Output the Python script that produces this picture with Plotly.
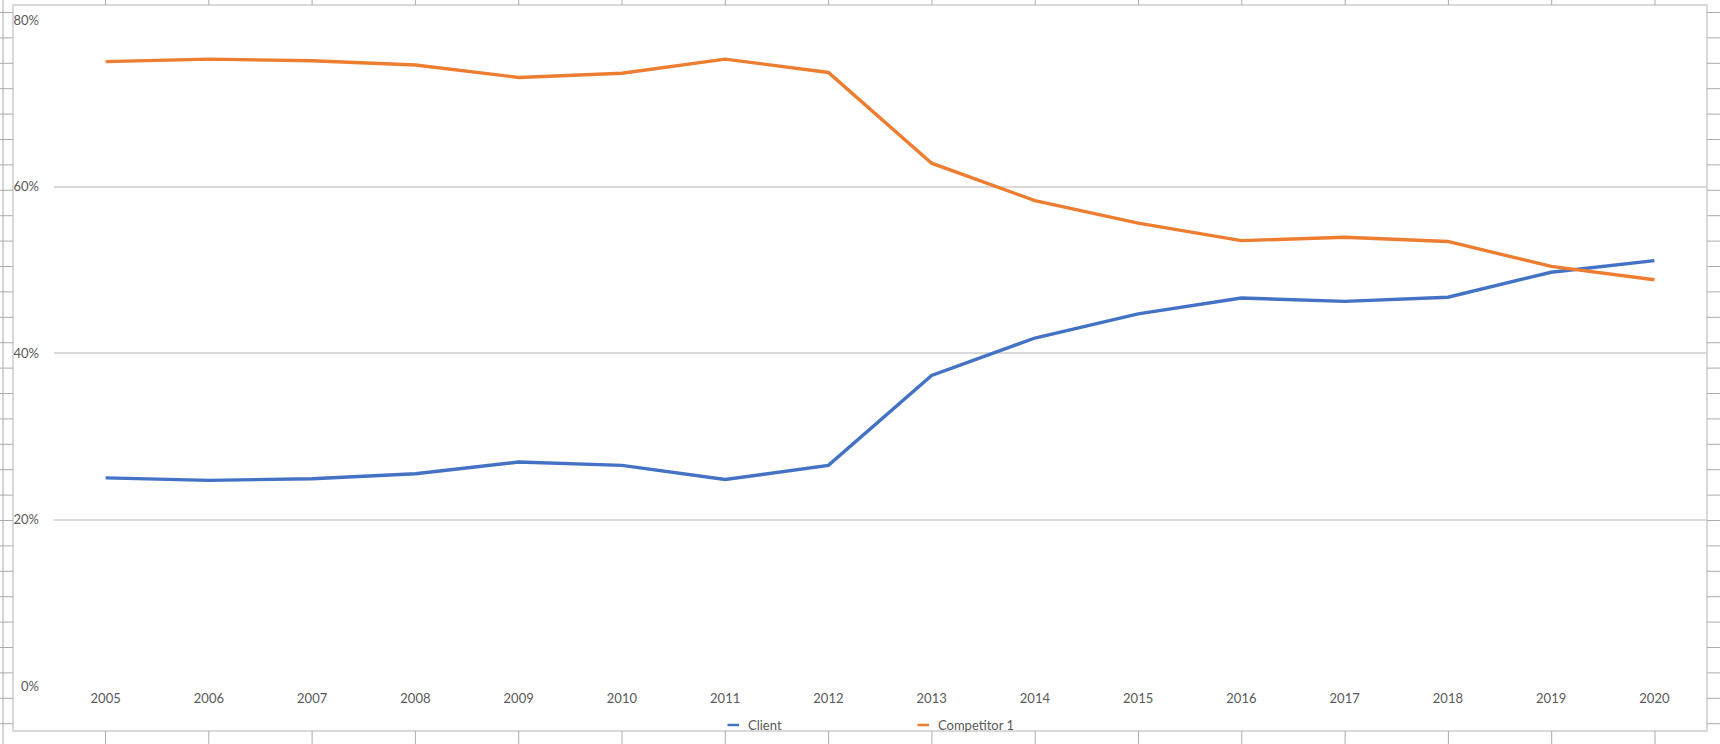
import plotly.graph_objects as go

years = [str(y) for y in range(2005, 2021)]
client = [25.0, 24.7, 24.9, 25.5, 26.9, 26.5, 24.8, 26.5, 37.3, 41.8, 44.7, 46.6, 46.2, 46.7, 49.7, 51.1]
competitor_1 = [75.0, 75.3, 75.1, 74.6, 73.1, 73.6, 75.3, 73.7, 62.8, 58.3, 55.6, 53.5, 53.9, 53.4, 50.4, 48.8]

y_ticks = [0, 20, 40, 60, 80]
y_tick_labels = ["0%", "20%", "40%", "60%", "80%"]

BLUE = "#4472C4"
ORANGE = "#ED7D31"
TEXT = "#595959"
FONT = "Lato, Liberation Sans, sans-serif"
FS = 13

W, H = 1720, 744
M_L, M_R, M_T, M_B = 54, 14, 20, 58
PW, PH = W - M_L - M_R, H - M_T - M_B


def px_x(x):
    # pixel -> paper x
    return (x - M_L) / PW


def px_y(y):
    # pixel -> paper y
    return (H - M_B - y) / PH


series = [("Client", client, BLUE), ("Competitor 1", competitor_1, ORANGE)]

fig = go.Figure()
for name, vals, color in series:
    fig.add_trace(go.Scatter(x=years, y=vals, mode="lines", name=name,
                             line=dict(color=color, width=3.4)))

shapes = []
grid_col = "#ABABAB"
# spreadsheet cells behind the chart
row_h, col_w = 25.4, 103.3
y = 12.5
while y < H:
    shapes.append(dict(type="line", xref="paper", yref="paper", x0=px_x(0), x1=px_x(13),
                       y0=px_y(y), y1=px_y(y), line=dict(color=grid_col, width=1)))
    shapes.append(dict(type="line", xref="paper", yref="paper", x0=px_x(1707), x1=px_x(W),
                       y0=px_y(y), y1=px_y(y), line=dict(color=grid_col, width=1)))
    y += row_h
x = 105.5
while x < 1707:
    shapes.append(dict(type="line", xref="paper", yref="paper", x0=px_x(x), x1=px_x(x),
                       y0=px_y(0), y1=px_y(5), line=dict(color=grid_col, width=1)))
    shapes.append(dict(type="line", xref="paper", yref="paper", x0=px_x(x), x1=px_x(x),
                       y0=px_y(731), y1=px_y(H), line=dict(color=grid_col, width=1)))
    x += col_w
shapes.append(dict(type="line", xref="paper", yref="paper", x0=px_x(3), x1=px_x(3),
                   y0=px_y(0), y1=px_y(H), line=dict(color=grid_col, width=1)))
# chart area border
shapes.append(dict(type="rect", xref="paper", yref="paper", x0=px_x(13), x1=px_x(1707),
                   y0=px_y(731), y1=px_y(5), line=dict(color="#D9D9D9", width=2),
                   layer="below"))

# excel style legend: short dash + label, drawn by hand so no margin push
annotations = []
legend_pos = [727.5, 917.5]  # left edge of each dash, px
for (name, _, color), lx in zip(series, legend_pos):
    shapes.append(dict(type="line", xref="paper", yref="paper", x0=px_x(lx), x1=px_x(lx + 11.5),
                       y0=px_y(725), y1=px_y(725), line=dict(color=color, width=2.5)))
    annotations.append(dict(text=name, xref="paper", yref="paper", x=px_x(lx + 18),
                            y=px_y(725), xanchor="left", yanchor="middle", showarrow=False,
                            font=dict(size=FS, color=TEXT)))

fig.update_layout(
    width=W,
    height=H,
    autosize=False,
    margin=dict(l=M_L, r=M_R, t=M_T, b=M_B),
    paper_bgcolor="white",
    plot_bgcolor="white",
    font=dict(family=FONT, size=FS, color=TEXT),
    showlegend=False,
    shapes=shapes,
    annotations=annotations,
    xaxis=dict(
        type="category",
        range=[-0.5, 15.5],
        showgrid=False,
        zeroline=False,
        showline=False,
        ticks="",
        automargin=False,
        ticklabelstandoff=3,
        tickfont=dict(size=FS, color=TEXT),
    ),
    yaxis=dict(
        range=[0, 80],
        tickvals=y_ticks,
        ticktext=y_tick_labels,
        showgrid=True,
        gridcolor="#D9D9D9",
        gridwidth=1.5,
        zeroline=False,
        showline=False,
        ticks="",
        automargin=False,
        ticklabelstandoff=14,
        tickfont=dict(size=FS, color=TEXT),
    ),
)

fig.write_html("out.html", config={"displayModeBar": False},
               post_script="document.body.style.margin='0';")
